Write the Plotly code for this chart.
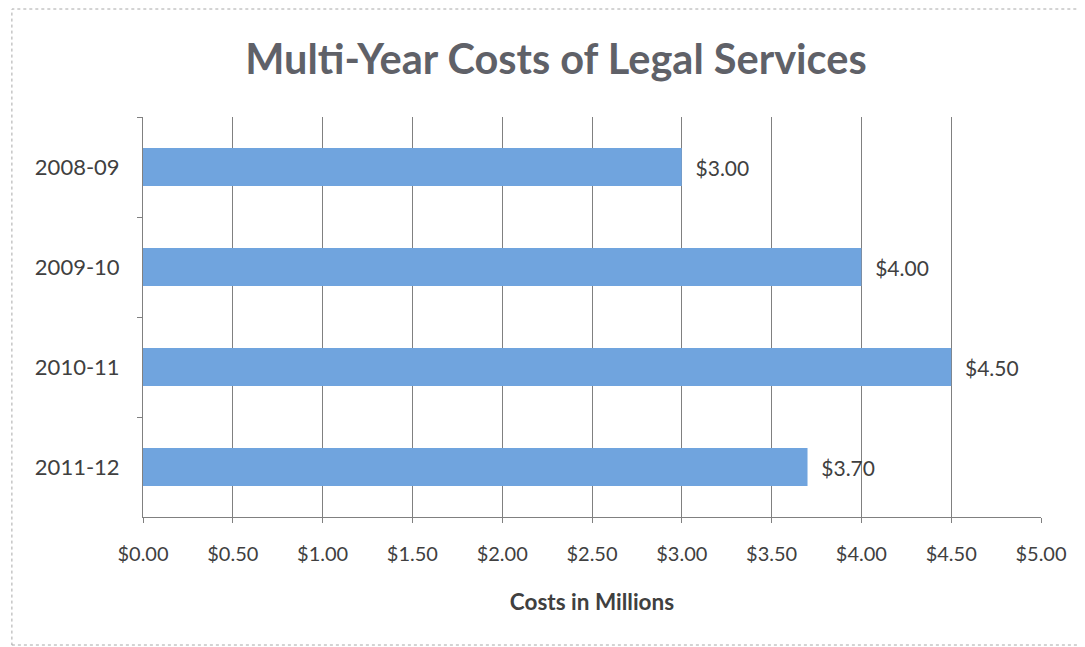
import plotly.graph_objects as go

categories = ["2008-09", "2009-10", "2010-11", "2011-12"]
costs = [3.00, 4.00, 4.50, 3.70]
tick_vals = [0, 0.5, 1, 1.5, 2, 2.5, 3, 3.5, 4, 4.5, 5]
tick_text = ["$%.2f" % v for v in tick_vals]
labels = ["  $%.2f" % v for v in costs]

FONT = "Lato, 'Open Sans', sans-serif"

fig = go.Figure(go.Bar(
    y=categories, x=costs, orientation="h",
    marker=dict(color="#70a4de", line=dict(width=0)),
    width=0.38,
    text=labels, textposition="outside",
    textfont=dict(family=FONT, size=21, color="#404040"),
    cliponaxis=False,
))

fig.update_layout(
    width=1085, height=647,
    paper_bgcolor="white", plot_bgcolor="white",
    margin=dict(l=135, r=52, t=109, b=138),
    title=dict(text="<b>Multi-Year Costs of Legal Services</b>",
               x=0.505, xanchor="center", y=0.92, yanchor="middle",
               font=dict(family=FONT, size=41.5, color="#5f6168")),
    showlegend=False,
    xaxis=dict(type="linear", range=[0, 5], tickvals=tick_vals, ticktext=tick_text,
               showgrid=True, gridcolor="#808080", gridwidth=1,
               showline=True, linecolor="#808080", linewidth=1,
               ticks="outside", ticklen=5, tickcolor="#808080",
               ticklabelstandoff=14,
               tickfont=dict(family=FONT, size=20, color="#404040"),
               title=dict(text="<b>Costs in Millions</b>", standoff=30,
                          font=dict(family=FONT, size=22.5, color="#404040")),
               zeroline=False),
    yaxis=dict(type="category", categoryorder="array", categoryarray=categories,
               autorange="reversed",
               showline=True, linecolor="#808080", linewidth=1,
               ticks="outside", tickson="boundaries", ticklen=5, tickcolor="#808080",
               ticklabelstandoff=18,
               tickfont=dict(family=FONT, size=22, color="#404040"),
               showgrid=False),
    bargap=0.62,
)

fig.add_shape(type="rect", xref="paper", yref="paper",
              x0=-0.146, x1=1.048, y0=-0.32, y1=1.27,
              line=dict(color="#a8a8a8", width=1, dash="dot"))

fig.write_html("out.html")
